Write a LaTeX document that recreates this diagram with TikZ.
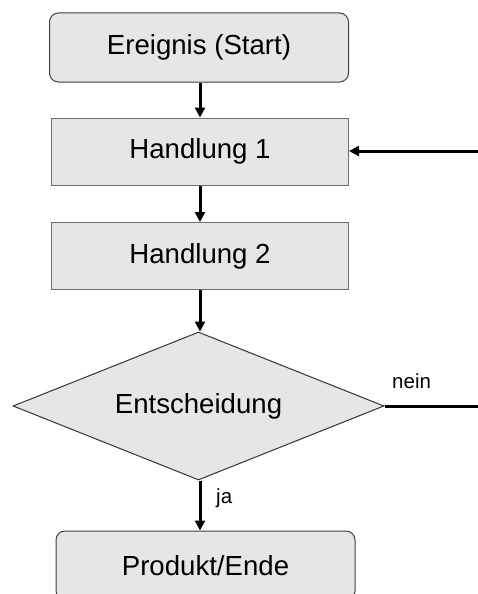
\documentclass[tikz,border=0pt]{standalone}
\usepackage{fontspec}
\setmainfont{Liberation Sans}
\usetikzlibrary{arrows.meta,shapes.geometric}
\definecolor{boxfill}{HTML}{E6E6E6}
\definecolor{boxline}{HTML}{6E6E6E}
\tikzset{
  base/.style={draw=boxline, fill=boxfill, line width=1pt, font=\fontsize{27.6}{30}\selectfont, inner sep=0pt},
  terminal/.style={base, draw=black!75, rounded corners=9pt, minimum width=299pt, minimum height=69pt},
  action/.style={base, minimum width=297pt, minimum height=67pt},
  decision/.style={base, draw=black!80, diamond, aspect=2.5, minimum width=371pt, minimum height=148pt},
  flow/.style={line width=3pt, -{Triangle[length=10pt,width=10pt]}},
  plain/.style={line width=3pt},
  lbl/.style={font=\fontsize{20.5}{23}\selectfont, inner sep=0pt}
}
\begin{document}
\begin{tikzpicture}[x=1pt,y=-1pt]
  \useasboundingbox (0,0) rectangle (478,594);
  \clip (0,0) rectangle (478,594);
  \node[terminal] (start) at (199,47.5) {Ereignis (Start)};
  \node[action] (h1) at (200,151.5) {Handlung 1};
  \node[action] (h2) at (200,256) {Handlung 2};
  \node[decision] (dec) at (198.5,406) {Entscheidung};
  \node[terminal] (end) at (205.5,565.5) {Produkt/Ende};
  \coordinate (inR) at (478,151);
  \coordinate (outR) at (478,406);

  \draw[flow] (start.south -| h1.north) -- (h1.north);
  \draw[flow] (h1) -- (h2);
  \draw[flow] (h2.south) -- (dec.north -| h2.south);
  \draw[flow] (inR) -- (inR -| h1.east);
  \draw[plain] (dec.east) -- (outR |- dec.east);
  \draw[flow] (dec.south -| h2.south) -- (end.north -| h2.south);

  \node[lbl, anchor=base west] (nein) at (392,388) {nein};
  \node[lbl, anchor=base west] (ja) at (216,503) {ja};
\end{tikzpicture}
\end{document}
